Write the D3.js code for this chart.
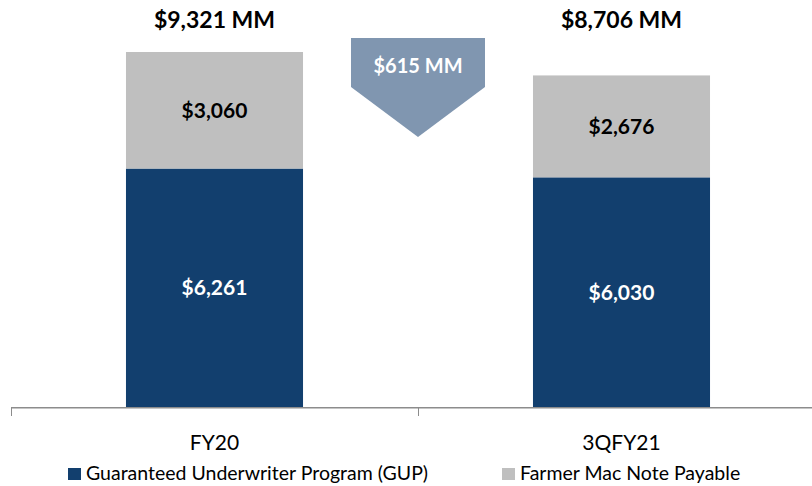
<!DOCTYPE html>
<html>
<head>
<meta charset="utf-8">
<script src="https://cdn.jsdelivr.net/npm/d3@7"></script>
<style>
  body { margin: 0; background: #fff; }
  text { font-family: Lato, "Open Sans", sans-serif; }
</style>
</head>
<body>
<div id="chart"></div>
<script>
// Data
var periods = ["FY20", "3QFY21"];
var gupValues = [6261, 6030];
var noteValues = [3060, 2676];
var totalLabels = ["$9,321 MM", "$8,706 MM"];
var changeLabel = "$615 MM";
var seriesNames = ["Guaranteed Underwriter Program (GUP)", "Farmer Mac Note Payable"];
var seriesColors = ["#123f6e", "#bfbfbf"];

var width = 812, height = 486;
var baseY = 407;

var svg = d3.select("#chart").append("svg")
    .attr("width", width)
    .attr("height", height);

// scales
var xScale = d3.scaleBand()
    .domain(periods)
    .range([11, 825])
    .paddingInner(0.565)
    .paddingOuter(0.2825);

var yScale = d3.scaleLinear()
    .domain([0, 9321])
    .range([baseY, 52]);

var stackData = periods.map((p, i) => ({period: p, gup: gupValues[i], note: noteValues[i]}));
var series = d3.stack().keys(["gup", "note"])(stackData);

// bars
svg.selectAll("g.layer")
    .data(series)
    .enter().append("g")
    .attr("class", "layer")
    .attr("fill", (d, i) => seriesColors[i])
    .selectAll("rect")
    .data(d => d)
    .enter().append("rect")
    .attr("x", d => xScale(d.data.period))
    .attr("width", xScale.bandwidth())
    .attr("y", d => yScale(d[1]))
    .attr("height", d => yScale(d[0]) - yScale(d[1]));

// segment labels
series.forEach(function (s, si) {
    svg.selectAll(".seg" + si)
        .data(s)
        .enter().append("text")
        .attr("x", d => xScale(d.data.period) + xScale.bandwidth() / 2)
        .attr("y", d => (yScale(d[0]) + yScale(d[1])) / 2 + 7.5)
        .attr("text-anchor", "middle")
        .attr("font-size", 21)
        .attr("font-weight", "bold")
        .attr("fill", si === 0 ? "#fff" : "#000")
        .text(d => "$" + d3.format(",")(d[1] - d[0]));
});

// totals
svg.selectAll(".total")
    .data(stackData)
    .enter().append("text")
    .attr("x", d => xScale(d.period) + xScale.bandwidth() / 2)
    .attr("y", 28)
    .attr("text-anchor", "middle")
    .attr("font-size", 23)
    .attr("font-weight", "bold")
    .attr("fill", "#000")
    .text((d, i) => totalLabels[i]);

// x axis: line plus ticks at category boundaries
var axis = svg.append("g");
axis.append("line")
    .attr("x1", 11).attr("x2", width)
    .attr("y1", baseY + 0.75).attr("y2", baseY + 0.75)
    .attr("stroke", "#8c8c8c").attr("stroke-width", 1.5);
var step = xScale.step();
[11, 11 + step].forEach(function (tx) {
    axis.append("line")
        .attr("x1", tx + 0.5).attr("x2", tx + 0.5)
        .attr("y1", baseY).attr("y2", baseY + 9)
        .attr("stroke", "#8c8c8c");
});
axis.selectAll(".cat")
    .data(periods)
    .enter().append("text")
    .attr("x", d => xScale(d) + xScale.bandwidth() / 2)
    .attr("y", 450)
    .attr("text-anchor", "middle")
    .attr("font-size", 21)
    .attr("fill", "#000")
    .text(d => d);

// change arrow between the bars
var ax = (xScale(periods[0]) + xScale.bandwidth() + xScale(periods[1])) / 2;
var arrow = svg.append("g").attr("transform", "translate(" + ax + ",0)");
arrow.append("path")
    .attr("d", "M-67,38 L67,38 L67,87 L0,137 L-67,87 Z")
    .attr("fill", "#8096b0");
arrow.append("text")
    .attr("x", 0).attr("y", 73)
    .attr("text-anchor", "middle")
    .attr("font-size", 20)
    .attr("font-weight", "bold")
    .attr("fill", "#fff")
    .text(changeLabel);

// legend
var legendX = [68, 502];
var legend = svg.append("g");
seriesNames.forEach(function (name, i) {
    legend.append("rect")
        .attr("x", legendX[i]).attr("y", 468)
        .attr("width", 13).attr("height", 12)
        .attr("fill", seriesColors[i]);
    legend.append("text")
        .attr("x", legendX[i] + 18).attr("y", 480)
        .attr("font-size", 19.5)
        .attr("fill", "#000")
        .text(name);
});
</script>
</body>
</html>
